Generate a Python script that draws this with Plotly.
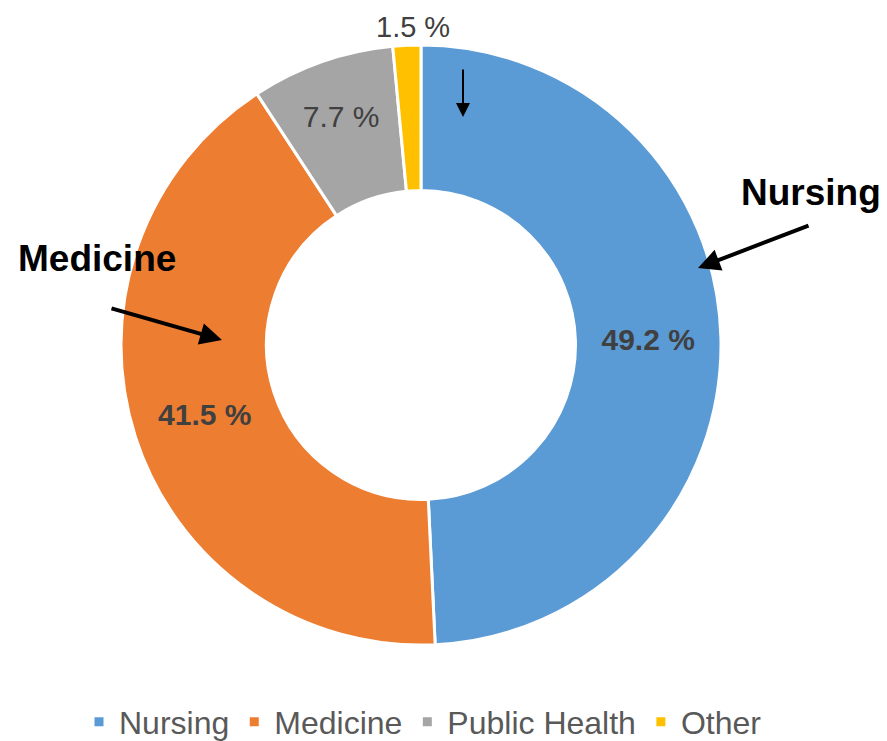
import plotly.graph_objects as go

categories = ["Nursing", "Medicine", "Public Health", "Other"]
values = [49.2, 41.5, 7.7, 1.5]
colors = ["#5B9BD5", "#ED7D31", "#A5A5A5", "#FFC000"]
bold_flags = [True, True, False, False]
positions = ["inside", "inside", "inside", "none"]

# page body has an 8px margin, so the figure is drawn 8px in from the window corner
OFF = 8
W, H = 887 - OFF, 741 - OFF
FONT = "Liberation Sans, Arial, sans-serif"


def px(x):
    return (x - OFF) / W


def py(y):
    return 1 - (y - OFF) / H


def fmt(v, b):
    s = "%.1f %%" % v
    return "<b>%s</b>" % s if b else s


texts = [fmt(v, b) for v, b in zip(values, bold_flags)]

fig = go.Figure()
fig.add_trace(go.Pie(
    labels=categories,
    values=values,
    text=texts,
    textinfo="text",
    textposition=positions,
    insidetextorientation="horizontal",
    sort=False,
    direction="clockwise",
    rotation=0,
    hole=0.515,
    marker=dict(colors=colors, line=dict(color="white", width=3)),
    textfont=dict(family=FONT, size=30, color="#404040"),
    domain=dict(x=[px(121), px(721)], y=[py(645), py(45)]),
    hoverinfo="label+value",
))

ann_font = dict(family=FONT, size=37, color="#000000")
annotations = [
    dict(x=px(413), y=py(9), xref="paper", yref="paper", text=fmt(values[3], False),
         showarrow=False, xanchor="center", yanchor="top",
         font=dict(family=FONT, size=29, color="#404040")),
    dict(x=px(811), y=py(192), xref="paper", yref="paper", text="<b>Nursing</b>",
         showarrow=False, xanchor="center", yanchor="middle", font=ann_font),
    dict(x=px(97), y=py(258), xref="paper", yref="paper", text="<b>Medicine</b>",
         showarrow=False, xanchor="center", yanchor="middle", font=ann_font),
    dict(x=px(698), y=py(268), xref="paper", yref="paper", text="", showarrow=True,
         ax=112, ay=-43, arrowhead=2, arrowsize=1.1, arrowwidth=4, arrowcolor="#000000"),
    dict(x=px(222), y=py(340), xref="paper", yref="paper", text="", showarrow=True,
         ax=-112, ay=-32, arrowhead=2, arrowsize=1.1, arrowwidth=4, arrowcolor="#000000"),
    dict(x=px(463), y=py(117), xref="paper", yref="paper", text="", showarrow=True,
         ax=0, ay=-49, arrowhead=2, arrowsize=1.4, arrowwidth=2, arrowcolor="#000000"),
]

fig.update_layout(
    width=W, height=H,
    margin=dict(l=0, r=0, t=0, b=0, autoexpand=False),
    paper_bgcolor="white",
    plot_bgcolor="white",
    showlegend=True,
    legend=dict(orientation="h", x=px(423), xanchor="center", y=py(722), yanchor="middle",
                font=dict(family=FONT, size=32, color="#595959"),
                itemwidth=30, bgcolor="rgba(0,0,0,0)"),
    annotations=annotations,
)

fig.write_html("out.html")
